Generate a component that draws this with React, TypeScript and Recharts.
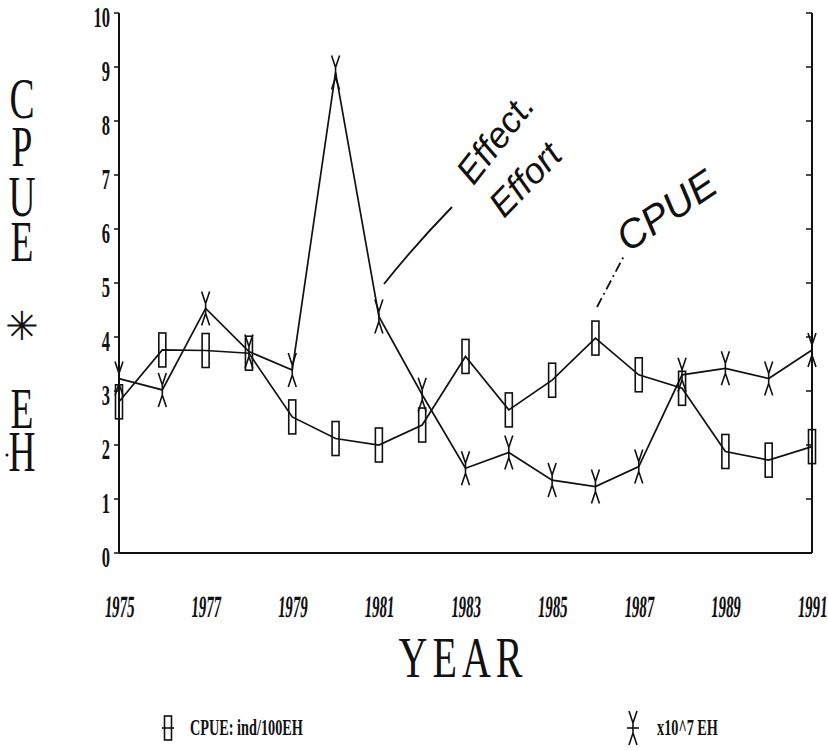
import { LineChart, Line, XAxis, YAxis } from "recharts"

const years = [1975, 1976, 1977, 1978, 1979, 1980, 1981, 1982, 1983, 1984, 1985, 1986, 1987, 1988, 1989, 1990, 1991]
// CPUE: ind/100EH
const cpue = [2.8, 3.76, 3.75, 3.7, 2.52, 2.12, 2.0, 2.37, 3.64, 2.65, 3.2, 3.98, 3.3, 3.05, 1.88, 1.72, 1.97]
// effort, x10^7 EH
const effort = [3.23, 3.02, 4.53, 3.73, 3.39, 8.9, 4.38, 2.93, 1.57, 1.86, 1.35, 1.23, 1.6, 3.3, 3.42, 3.23, 3.76]

const yearTicks = [1975, 1977, 1979, 1981, 1983, 1985, 1987, 1989, 1991]
const valueTicks = [0, 1, 2, 3, 4, 5, 6, 7, 8, 9, 10]
const yTitle = ["C", "P", "U", "E", "*", "E", "H"]
const yTitlePos = [100, 148, 198, 243, 326, 410, 453]

const data = years.map((year, i) => ({ year, cpue: cpue[i], effort: effort[i] }))

const ink = "#111"
const tickFont = "'Liberation Serif', 'DejaVu Serif', serif"
const handFont = "'Liberation Sans', 'DejaVu Sans', sans-serif"
const sx = 0.75
const sy = 1.12

function BoxMarker({ cx, cy }: { cx: number; cy: number }) {
  return <rect x={cx - 3.5} y={cy - 17} width={7} height={34} fill="none" stroke={ink} strokeWidth={1.6} />
}

function CrossMarker({ cx, cy }: { cx: number; cy: number }) {
  const d = `M${cx - 4},${cy - 17} L${cx},${cy - 5} L${cx + 4},${cy - 17} M${cx},${cy - 5} L${cx},${cy + 5} M${cx - 4},${cy + 17} L${cx},${cy + 5} L${cx + 4},${cy + 17}`
  return <path d={d} fill="none" stroke={ink} strokeWidth={1.6} />
}

const YTick = (props: any) => {
  const { x, y, payload } = props
  return (
    <g transform={`translate(${x},${y}) scale(0.55,1)`}>
      <text textAnchor="end" dy="0.48em" fontFamily={tickFont} fontWeight="bold" fontSize={30} fill={ink}>
        {payload.value}
      </text>
    </g>
  )
}

const XTick = (props: any) => {
  const { x, y, payload } = props
  return (
    <g transform={`translate(${x},${y + 64}) scale(0.48,1) skewX(-8)`}>
      <text textAnchor="middle" fontFamily={tickFont} fontWeight="bold" fontSize={31} fill={ink}>
        {payload.value}
      </text>
    </g>
  )
}

const NoTick = () => <g />

export default function App() {
  return (
    <div style={{ position: "absolute", left: 0, top: 0, width: 828, height: 750, background: "#fff" }}>
      <LineChart width={828} height={750} data={data} margin={{ top: 13, right: 16, left: 0, bottom: 137 }}>
        <XAxis
          dataKey="year"
          type="number"
          domain={[1975, 1991]}
          ticks={yearTicks}
          tickLine={false}
          tickSize={0}
          tickMargin={0}
          height={60}
          axisLine={{ stroke: ink, strokeWidth: 2 }}
          tick={<XTick />}
        />
        <XAxis
          xAxisId="top"
          dataKey="year"
          type="number"
          orientation="top"
          domain={[1975, 1991]}
          tick={false}
          tickLine={false}
          height={0}
          axisLine={{ stroke: ink, strokeWidth: 2 }}
        />
        <YAxis
          yAxisId="l"
          domain={[0, 10]}
          ticks={valueTicks}
          width={119}
          tickSize={5}
          tickMargin={4}
          tickLine={{ stroke: ink, strokeWidth: 1.5 }}
          axisLine={{ stroke: ink, strokeWidth: 2 }}
          tick={<YTick />}
        />
        <YAxis
          yAxisId="r"
          orientation="right"
          domain={[0, 10]}
          ticks={valueTicks}
          width={1}
          mirror
          tickSize={6}
          tick={<NoTick />}
          tickLine={{ stroke: ink, strokeWidth: 1.5 }}
          axisLine={{ stroke: ink, strokeWidth: 2 }}
        />
        <Line
          yAxisId="l"
          dataKey="cpue"
          type="linear"
          stroke={ink}
          strokeWidth={1.7}
          isAnimationActive={false}
          activeDot={false}
          dot={(p: any) => <BoxMarker key={`c${p.index}`} cx={p.cx} cy={p.cy} />}
        />
        <Line
          yAxisId="r"
          xAxisId={0}
          dataKey="effort"
          type="linear"
          stroke={ink}
          strokeWidth={1.7}
          isAnimationActive={false}
          activeDot={false}
          dot={(p: any) => <CrossMarker key={`e${p.index}`} cx={p.cx} cy={p.cy} />}
        />
      </LineChart>
      <svg width={828} height={750} style={{ position: "absolute", left: 0, top: 0, pointerEvents: "none" }}>
        {/* y title, stacked letters */}
        <g transform={`translate(22,0) scale(${sx},${sy})`}>
          <text textAnchor="middle" fontFamily={tickFont} fontSize={50} fill={ink}>
            {yTitle.map((ch, i) =>
              ch === "*" ? null : (
                <tspan key={i} x={0} y={yTitlePos[i] / sy} dy="0.33em">
                  {ch}
                </tspan>
              )
            )}
          </text>
        </g>
        <text x={22} y={yTitlePos[4]} dy="0.36em" textAnchor="middle" fontFamily="'DejaVu Sans', sans-serif" fontSize={40} fill={ink}>
          {"\u2733\uFE0E"}
        </text>
        <circle cx={7} cy={455} r={1.5} fill={ink} />
        {/* x title */}
        <g transform="translate(463,677) scale(1,1.4)">
          <text textAnchor="middle" fontFamily={tickFont} fontSize={40} letterSpacing={5} fill={ink}>YEAR</text>
        </g>
        {/* handwritten notes */}
        <text transform="translate(505,146) rotate(-52)" textAnchor="middle" fontFamily={handFont} fontStyle="italic" fontSize={36} fill={ink}>Effect.</text>
        <text transform="translate(534,188) rotate(-46)" textAnchor="middle" fontFamily={handFont} fontStyle="italic" fontSize={36} fill={ink}>Effort</text>
        <path d="M384,284 Q415,245 452,207" fill="none" stroke={ink} strokeWidth={1.8} />
        <text transform="translate(674,222) rotate(-34)" textAnchor="middle" fontFamily={handFont} fontStyle="italic" fontSize={40} fill={ink}>CPUE</text>
        <path d="M597,307 L625,254" fill="none" stroke={ink} strokeWidth={1.8} strokeDasharray="10 4 2 4" />
        {/* legend */}
        <rect x={164.5} y={716} width={7} height={24} fill="none" stroke={ink} strokeWidth={1.6} />
        <line x1={162} y1={728} x2={174} y2={728} stroke={ink} strokeWidth={1.6} />
        <g transform="translate(190,735) scale(0.62,1)">
          <text fontFamily={tickFont} fontWeight="bold" fontSize={23} fill={ink}>CPUE: ind/100EH</text>
        </g>
        <CrossMarker cx={633} cy={728} />
        <line x1={627} y1={728} x2={639} y2={728} stroke={ink} strokeWidth={1.6} />
        <g transform="translate(657,735) scale(0.62,1)">
          <text fontFamily={tickFont} fontWeight="bold" fontSize={23} fill={ink}>x10^7 EH</text>
        </g>
      </svg>
    </div>
  )
}
